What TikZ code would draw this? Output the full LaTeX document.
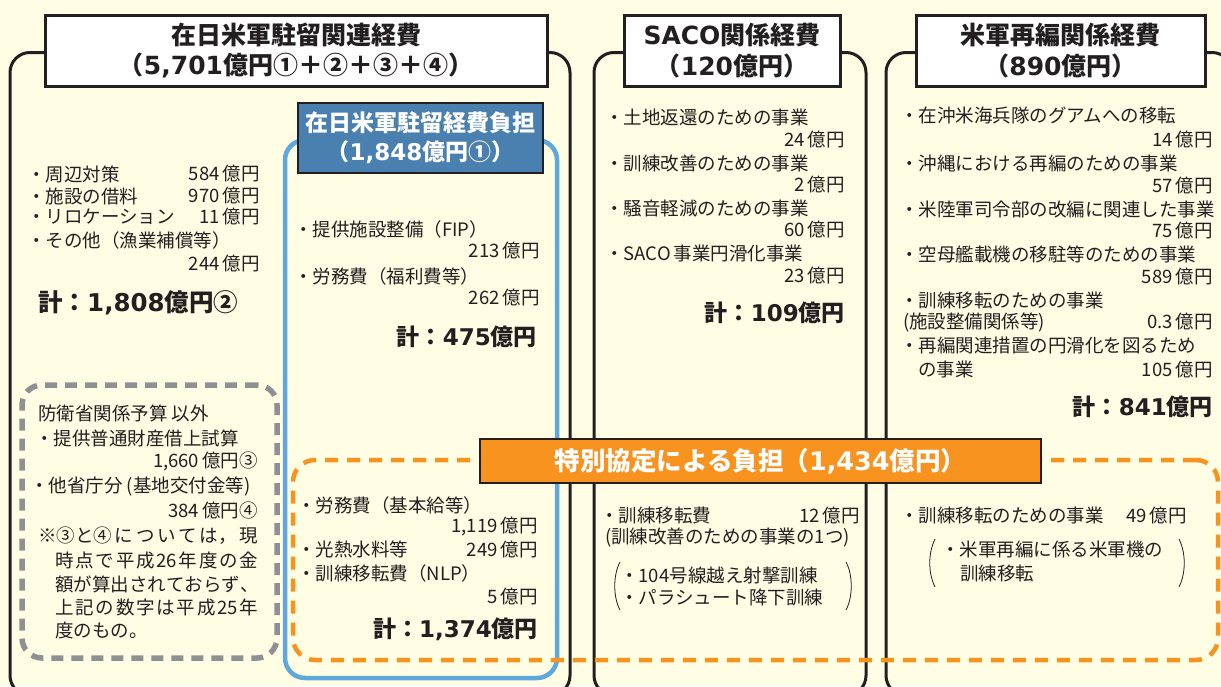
\documentclass[tikz,border=0pt]{standalone}
\usepackage{fontspec}
\setmainfont{Noto Sans CJK JP}
\newfontfamily\dvfont{DejaVu Sans}
\definecolor{bg}{HTML}{FFFDE3}
\definecolor{ink}{HTML}{231F20}
\definecolor{bluel}{HTML}{5DA9DD}
\definecolor{blueh}{HTML}{4A80B0}
\definecolor{orng}{HTML}{F7931E}
\definecolor{grayd}{HTML}{8F9093}
\newcommand\dg[1]{{\dvfont\bfseries #1}}
\newcommand\jg{\hskip 0pt plus 1fil\relax}
\begin{document}
\begin{tikzpicture}[x=1pt,y=-1pt,
  outerbox/.style={draw=ink, line width=3pt, rounded corners=20pt, inner sep=0pt},
  bluebox/.style={draw=bluel, line width=4.5pt, rounded corners=20pt, inner sep=0pt},
  graybox/.style={draw=grayd, line width=5.5pt, dash pattern=on 12pt off 8pt, rounded corners=20pt, inner sep=0pt},
  orngbox/.style={draw=orng, line width=4.5pt, dash pattern=on 13pt off 9pt, rounded corners=22pt, inner sep=0pt},
  hdrbox/.style={draw=ink, line width=3pt, fill=white, inner sep=0pt, align=center, text=ink,
    font=\fontsize{25}{30.5}\selectfont\bfseries},
  bluehdr/.style={draw=ink, line width=2.4pt, fill=blueh, inner sep=0pt, align=center, text=white,
    font=\fontsize{23}{29}\selectfont\bfseries},
  orghdr/.style={draw=ink, line width=2.4pt, fill=orng, inner sep=0pt, align=center, text=white,
    font=\fontsize{25.5}{30}\selectfont\bfseries},
  itm/.style={inner sep=0pt, text=ink, font=\fontsize{18.5}{22}\selectfont},
  L/.style={itm, anchor=west},
  R/.style={itm, anchor=east},
  tot/.style={inner sep=0pt, text=ink, anchor=east, font=\fontsize{23}{26}\selectfont\bfseries},
  paren/.style={draw=ink, line width=0.8pt}
]
\useasboundingbox (0,0) rectangle (1221,686);
\fill[bg] (0,0) rectangle (1221,686);

% outer frames
\node[outerbox, minimum width=560pt, minimum height=643pt] (box1) at (290,374) {};
\node[outerbox, minimum width=272pt, minimum height=643pt] (box2) at (730,374) {};
\node[outerbox, minimum width=346pt, minimum height=643pt] (box3) at (1059,374) {};

% inner frames
\node[bluebox, minimum width=272pt, minimum height=538pt] (blue) at (421,409) {};
\node[graybox, minimum width=255pt, minimum height=273pt] (gray) at (149.5,521.5) {};
\node[orngbox, minimum width=925pt, minimum height=200pt] (orn) at (755.5,560) {};

% headers
\node[hdrbox, minimum width=502pt, minimum height=71pt] (h1) at (296,50.5)
  {在日米軍駐留関連経費\\（\dg{5,701}億円①＋②＋③＋④）};
\node[hdrbox, minimum width=216pt, minimum height=71pt] (h2) at (732,50.5)
  {\dg{SACO}関係経費\\（\dg{120}億円）};
\node[hdrbox, minimum width=289pt, minimum height=71pt] (h3) at (1060.5,50.5)
  {米軍再編関係経費\\（\dg{890}億円）};
\node[bluehdr, minimum width=245pt, minimum height=70pt] (h4) at (420.5,138)
  {在日米軍駐留経費負担\\（\dg{1,848}億円①）};
\node[orghdr, minimum width=561pt, minimum height=44pt] (h5) at (760.5,461)
  {特別協定による負担（\dg{1,434}億円）};

% box 1 list
\node[L] (a1) at (27,174) {・周辺対策};
\node[R] (a1v) at (260,174) {584\,億円};
\node[L] (a2) at (27,196) {・施設の借料};
\node[R] (a2v) at (260,196) {970\,億円};
\node[L] (a3) at (27,217) {・リロケーション};
\node[R] (a3v) at (260,217) {11\,億円};
\node[L] (a4) at (27,240) {・その他（漁業補償等）};
\node[R] (a4v) at (260,264) {244\,億円};
\node[tot, anchor=west, font=\fontsize{24.5}{26}\selectfont\bfseries] (a5) at (38,303) {計：\dg{1,808}億円②};

% blue box list
\node[L] (b1) at (294,229) {・提供施設整備（FIP）};
\node[R] (b1v) at (540,251) {213\,億円};
\node[L] (b2) at (294,276) {・労務費（福利費等）};
\node[R] (b2v) at (540,298) {262\,億円};
\node[tot] (b3) at (537,337) {計：\dg{475}億円};

% special agreement (inside blue box)
\node[L] (c1) at (297,505) {・労務費（基本給等）};
\node[R] (c1v) at (538,527) {1,119\,億円};
\node[L] (c2) at (297,549) {・光熱水料等};
\node[R] (c2v) at (538,549) {249\,億円};
\node[L] (c3) at (297,573) {・訓練移転費（NLP）};
\node[R] (c3v) at (538,596) {5\,億円};
\node[tot] (c4) at (538,629) {計：\dg{1,374}億円};

% gray box
\node[L] (g1) at (38,413) {防衛省関係予算 以外};
\node[L] (g2) at (35,438) {・提供普通財産借上試算};
\node[R] (g2v) at (258,461) {1,660\,億円③};
\node[L] (g3) at (30,486) {・他省庁分 (基地交付金等)};
\node[R] (g3v) at (258,510) {384\,億円④};
\node[L] (g4) at (38,536) {\hbox to 220pt{※③と④\jg に\jg つ\jg い\jg て\jg は，\jg 現}};
\node[L] (g5) at (55,560) {\hbox to 203pt{時\jg 点\jg で\jg 平\jg 成\jg 26\jg 年\jg 度\jg の\jg 金}};
\node[L] (g6) at (55,584) {\hbox to 203pt{額\jg が\jg 算\jg 出\jg さ\jg れ\jg て\jg お\jg ら\jg ず\jg 、}};
\node[L] (g7) at (55,607) {\hbox to 203pt{上\jg 記\jg の\jg 数\jg 字\jg は\jg 平\jg 成\jg 25\jg 年}};
\node[L] (g8) at (55,630) {度のもの。};

% SACO list
\node[L] (s1) at (605,117) {・土地返還のための事業};
\node[R] (s1v) at (845,140) {24\,億円};
\node[L] (s2) at (605,163) {・訓練改善のための事業};
\node[R] (s2v) at (845,185) {2\,億円};
\node[L] (s3) at (605,208) {・騒音軽減のための事業};
\node[R] (s3v) at (845,230) {60\,億円};
\node[L] (s4) at (605,253) {・SACO\,事業円滑化事業};
\node[R] (s4v) at (845,276) {23\,億円};
\node[tot] (s5) at (845,313) {計：\dg{109}億円};

% SACO special agreement
\node[L] (s6) at (600,515) {・訓練移転費};
\node[R] (s6v) at (860,515) {12\,億円};
\node[L] (s7) at (605,538) {(訓練改善のための事業の1つ)};
\node[L] (s8) at (620,575) {・104号線越え射撃訓練};
\node[L] (s9) at (620,597) {・パラシュート降下訓練};
\draw[paren] (620,562) .. controls (613,575) and (613,597) .. (620,610);
\draw[paren] (846,562) .. controls (853,575) and (853,597) .. (846,610);

% realignment list
\node[L] (r1) at (900,115) {・在沖米海兵隊のグアムへの移転};
\node[R] (r1v) at (1213,140) {14\,億円};
\node[L] (r2) at (900,163) {・沖縄における再編のための事業};
\node[R] (r2v) at (1213,186) {57\,億円};
\node[L] (r3) at (900,209) {・米陸軍司令部の改編に関連した事業};
\node[R] (r3v) at (1213,231) {75\,億円};
\node[L] (r4) at (900,254) {・空母艦載機の移駐等のための事業};
\node[R] (r4v) at (1213,277) {589\,億円};
\node[L] (r5) at (900,300) {・訓練移転のための事業};
\node[L] (r6) at (903,322) {(施設整備関係等)};
\node[R] (r6v) at (1213,322) {0.3\,億円};
\node[L] (r7) at (900,345) {・再編関連措置の円滑化を図るため};
\node[L] (r8) at (918,369) {の事業};
\node[R] (r8v) at (1213,369) {105\,億円};
\node[tot] (r9) at (1213,407) {計：\dg{841}億円};

% realignment special agreement
\node[L] (r10) at (900,515) {・訓練移転のための事業};
\node[R] (r10v) at (1187,515) {49\,億円};
\node[L] (r11) at (941,549) {・米軍再編に係る米軍機の};
\node[L] (r12) at (960,573) {訓練移転};
\draw[paren] (935,539) .. controls (928,553) and (928,573) .. (935,587);
\draw[paren] (1179,539) .. controls (1186,553) and (1186,573) .. (1179,587);
\end{tikzpicture}
\end{document}
